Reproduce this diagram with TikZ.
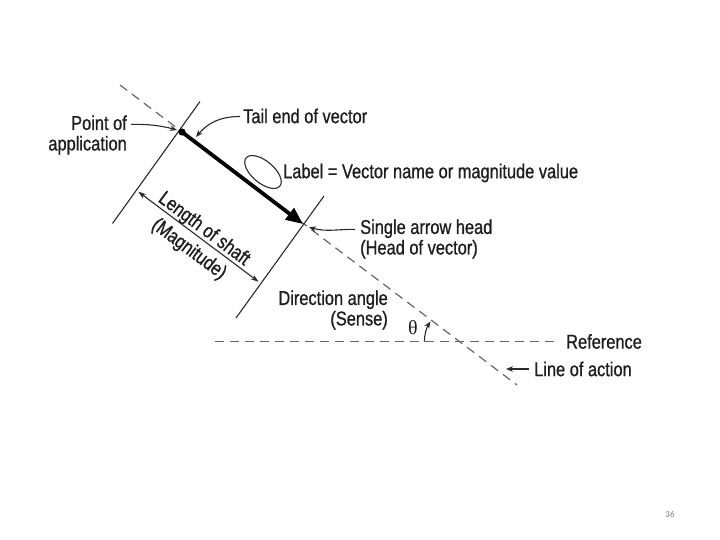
\documentclass[tikz,border=0pt]{standalone}
\usepackage{fontspec}
\setmainfont{Liberation Sans}[FakeStretch=0.82,FakeBold=0.8]
\newfontfamily\greekserif{Liberation Serif}
\newfontfamily\pagenofont{Carlito}
\usetikzlibrary{arrows.meta,calc}
\definecolor{inkc}{HTML}{1E1E1E}
\definecolor{linec}{HTML}{2A2A2A}
\definecolor{dashc}{HTML}{666666}
\begin{document}
\begin{tikzpicture}[x=1pt,y=1pt,
  lbl/.style={inner sep=0pt,text=inkc,font=\fontsize{20}{20.5}\selectfont},
  thin/.style={draw=linec,line width=1.1pt},
  dashln/.style={draw=dashc,line width=1.2pt,dash pattern=on 9pt off 6pt},
  callout/.style={draw=linec,line width=1.1pt,-{Stealth[length=7pt,width=5.5pt]}},
  vec/.style={draw=black,line width=3.8pt,-{Triangle[length=17pt,width=14pt]}},
  dimarrow/.style={draw=linec,line width=1.1pt,{Stealth[length=8pt,width=5.5pt]}-{Stealth[length=8pt,width=5.5pt]}}
]
\useasboundingbox (0,0) rectangle (720,-540);
\fill[white] (0,0) rectangle (720,-540);

% key points
\coordinate (L1) at (120,-85);
\coordinate (L2) at (517,-385);
\coordinate (A) at (182,-132);
\coordinate (B) at (303,-224);
\coordinate (O) at (460.4,-341.7);
\coordinate (R1) at (215,-341.7);
\coordinate (R2) at (558,-341.7);

% line of action and reference
\draw[dashln] (L1) -- (L2);
\draw[dashln] (R1) -- (R2);

% extension lines
\coordinate (P1a) at (200,-101.5);
\coordinate (P1b) at (112.5,-223.5);
\coordinate (P2a) at (324,-196);
\coordinate (P2b) at (236,-318);
\draw[thin] (P1a) -- (P1b);
\draw[thin] (P2a) -- (P2b);

% dimension line
\coordinate (D1) at (138.3,-191.7);
\coordinate (D2) at (258.5,-281.7);
\draw[dimarrow] (D1) -- (D2);
\node[lbl,rotate=-36.8,anchor=base] (len) at (200.8,-233.5) {Length of shaft};
\node[lbl,rotate=-36.8,anchor=north] (mag) at (194.5,-241.9) {(Magnitude)};

% vector
\draw[vec] (A) -- (B);
\fill[black] (A) circle (3.6pt);

% label ellipse
\draw[draw=linec,line width=1.1pt,rotate around={-40:(263,-172)}] (263,-172) ellipse (22pt and 11pt);

% texts
\node[lbl,anchor=east,align=right] (poa) at (127,-135) {Point of\\application};
\node[lbl,anchor=west] (tail) at (243,-116) {Tail end of vector};
\node[lbl,anchor=west] (lab) at (283,-173) {Label = Vector name or magnitude value};
\node[lbl,anchor=west,align=left] (sah) at (360,-239) {Single arrow head\\(Head of vector)};
\node[lbl,anchor=east,align=right] (dir) at (388,-310) {Direction angle\\(Sense)};
\node[lbl,anchor=west] (ref) at (566,-341.5) {Reference};
\node[lbl,anchor=west] (loa) at (534,-369) {Line of action};
\node[lbl,font=\greekserif\fontsize{20}{20}\selectfont] (th) at (413,-328) {θ};

% callout arrows
\coordinate (poaS) at (131,-124.3);
\coordinate (poaE) at (177,-130);
\draw[callout] (poaS) to[out=0,in=165] (poaE);
\coordinate (tailS) at (240,-116.5);
\coordinate (tailE) at (196,-137);
\draw[callout] (tailS) to[out=180,in=50] (tailE);
\coordinate (sahS) at (355,-229.3);
\coordinate (sahE) at (309,-227.3);
\draw[callout] (sahS) to[out=180,in=-15] (sahE);
\coordinate (loaS) at (529,-369);
\coordinate (loaE) at (506,-369);
\draw[callout] (loaS) -- (loaE);

% angle arc
\draw[callout] ($(O)+(180:36)$) arc[start angle=180,end angle=146,radius=36];

% page number
\node[inner sep=0pt,text=gray,font=\pagenofont\fontsize{9}{10}\selectfont] (pg) at (670,-514) {36};
\end{tikzpicture}
\end{document}
